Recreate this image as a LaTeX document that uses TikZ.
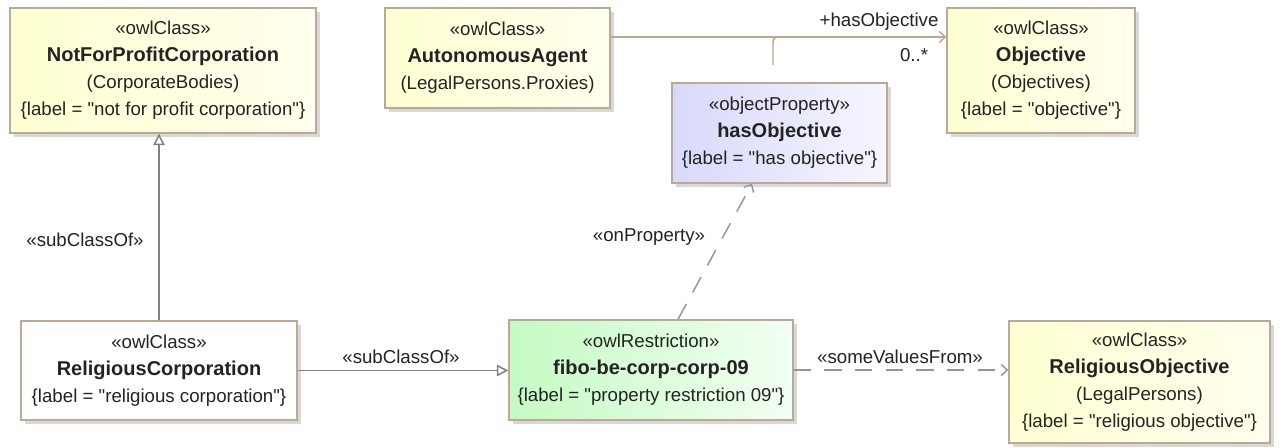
\documentclass[tikz,border=0pt]{standalone}
\usepackage{fontspec}
\setmainfont{Liberation Sans}[Ligatures=TeXOff]
\usetikzlibrary{arrows.meta,shadows,calc}
\definecolor{bord}{RGB}{188,168,148}
\definecolor{txt}{RGB}{35,35,35}
\definecolor{ylw}{RGB}{255,255,210}
\definecolor{ylw2}{RGB}{255,255,238}
\definecolor{lav}{RGB}{216,216,250}
\definecolor{lav2}{RGB}{246,246,255}
\definecolor{grn}{RGB}{196,250,196}
\definecolor{grn2}{RGB}{242,255,242}
\definecolor{gline}{RGB}{128,128,128}
\definecolor{dline}{RGB}{150,150,150}
\definecolor{aline}{RGB}{192,165,145}
\newcommand\nm[1]{{\fontsize{15}{20.25}\selectfont\bfseries #1}}
\tikzset{
  umlbox/.style={draw=bord, line width=1.1pt, rectangle, align=center, inner sep=0pt,
    text=txt, font=\fontsize{14}{20.25}\selectfont,
    drop shadow={shadow xshift=3pt, shadow yshift=-3pt, fill=black!30}},
  yclass/.style={umlbox, left color=ylw, right color=ylw2},
  wclass/.style={umlbox, fill=white},
  pclass/.style={umlbox, left color=lav, right color=lav2},
  rclass/.style={umlbox, left color=grn, right color=grn2},
  lbl/.style={text=txt, font=\fontsize{14}{17}\selectfont, inner sep=0pt},
  genline/.style={draw=gline, line width=1.1pt, -{Triangle[open, length=8.5pt, width=8.5pt, fill=white]}},
  depline/.style={draw=dline, line width=1.1pt, dash pattern=on 13pt off 10pt, -{Straight Barb[length=4.5pt, width=8.5pt]}},
  assocline/.style={draw=aline, line width=1.1pt, -{Straight Barb[length=4.5pt, width=8.5pt]}}
}
\begin{document}
\begin{tikzpicture}[x=0.75pt, y=-0.75pt]
\useasboundingbox (0,0) rectangle (1280,448);
\fill[white] (0,0) rectangle (1280,448);

\node[yclass, minimum width=229.5pt, minimum height=93.75pt] (nfp) at (163,70.5)
  {«owlClass»\\\nm{NotForProfitCorporation}\\(CorporateBodies)\\\{label = "not for profit corporation"\}};
\node[yclass, minimum width=168.75pt, minimum height=75pt] (aa) at (497.5,58)
  {«owlClass»\\\nm{AutonomousAgent}\\(LegalPersons.Proxies)};
\node[yclass, minimum width=141pt, minimum height=93.75pt] (obj) at (1041,70.5)
  {«owlClass»\\\nm{Objective}\\(Objectives)\\\{label = "objective"\}};
\node[pclass, minimum width=161.25pt, minimum height=75pt] (ho) at (779.5,133)
  {«objectProperty»\\\nm{hasObjective}\\\{label = "has objective"\}};
\node[wclass, minimum width=207pt, minimum height=74.25pt] (rc) at (159,370.5)
  {«owlClass»\\\nm{ReligiousCorporation}\\\{label = "religious corporation"\}};
\node[rclass, minimum width=213pt, minimum height=75pt] (r) at (651,370)
  {«owlRestriction»\\\nm{fibo-be-corp-corp-09}\\\{label = "property restriction 09"\}};
\node[yclass, minimum width=195.75pt, minimum height=91.5pt] (ro) at (1139.5,382)
  {«owlClass»\\\nm{ReligiousObjective}\\(LegalPersons)\\\{label = "religious objective"\}};

% generalizations
\draw[genline] (rc.north) -- (rc.north |- nfp.south);
\draw[genline] (rc.east) -- (rc.east -| r.west);

% association
\coordinate (as) at ([yshift=15.75pt]aa.east);
\draw[assocline] (as) -- (as -| obj.west);
\coordinate (tk) at (776,37);
\coordinate (tkb) at (773,65);
\draw[draw=aline, line width=1.1pt] (tk) .. controls (773,39) .. (773,46) -- (tkb);

% dependencies
\draw[depline] ([xshift=20.25pt]r.north) -- ([xshift=-20.6pt]ho.south);
\draw[depline] (r.east) -- (r.east -| ro.west);

% labels
\node[lbl] (l1) at (85,240) {«subClassOf»};
\node[lbl] (l2) at (401,357) {«subClassOf»};
\node[lbl] (l3) at (900,357) {«someValuesFrom»};
\node[lbl] (l4) at (649,237) {«onProperty»};
\node[lbl] (l5) at (879,22) {+hasObjective};
\node[lbl] (l6) at (914,55) {0..*};
\end{tikzpicture}
\end{document}
